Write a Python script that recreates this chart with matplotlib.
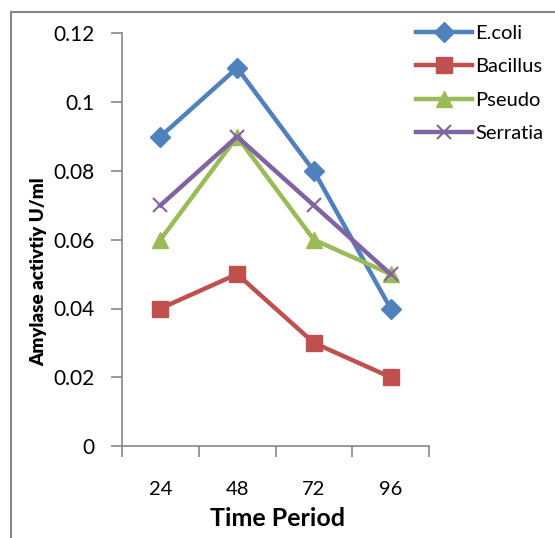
import matplotlib
matplotlib.use("Agg")
import matplotlib.pyplot as plt
from matplotlib.patches import Rectangle

categories = ["24", "48", "72", "96"]
ecoli = [0.09, 0.11, 0.08, 0.04]
bacillus = [0.04, 0.05, 0.03, 0.02]
pseudo = [0.06, 0.09, 0.06, 0.05]
serratia = [0.07, 0.09, 0.07, 0.05]
yticks = [0, 0.02, 0.04, 0.06, 0.08, 0.1, 0.12]
yticklabels = ["0", "0.02", "0.04", "0.06", "0.08", "0.1", "0.12"]

plt.rcParams['font.family'] = ['Lato', 'DejaVu Sans']

W, H = 555, 538
fig = plt.figure(figsize=(W/100, H/100), dpi=100)
ax = fig.add_axes([122/W, 1-446/H, (429-122)/W, (446-33.5)/H])

x = range(len(categories))
series = [
    ("E.coli", ecoli, "#4F81BD", "D", 10, 1),
    ("Bacillus", bacillus, "#C0504D", "s", 11, 1),
    ("Pseudo", pseudo, "#9BBB59", "^", 11, 1),
    ("Serratia", serratia, "#8064A2", "x", 10, 1.5),
]
for name, vals, col, m, ms, mew in series:
    ax.plot(x, vals, color=col, lw=3.2, marker=m, ms=ms, mew=mew,
            markerfacecolor=col, markeredgecolor=col, label=name)

ax.set_xlim(-0.5, 3.5)
ax.set_ylim(0, 0.12)
ax.set_yticks(yticks)
ax.set_yticklabels(yticklabels)
ax.set_xticks([-0.5, 0.5, 1.5, 2.5, 3.5])
ax.set_xticklabels([])
ax.set_xticks(list(x), minor=True)
ax.set_xticklabels(categories, minor=True)
ax.tick_params(axis='x', which='minor', length=0, pad=25.5, labelsize=14.5)
ax.tick_params(axis='x', which='major', length=8, color='#868686', width=1.2)
ax.tick_params(axis='y', length=8, color='#868686', width=1.2, labelsize=15, pad=12)
for s in ['top', 'right']:
    ax.spines[s].set_visible(False)
for s in ['left', 'bottom']:
    ax.spines[s].set_color('#868686')
    ax.spines[s].set_linewidth(1.2)

ax.set_xlabel("Time Period", fontsize=18, fontweight='bold')
ax.xaxis.set_label_coords((278-122)/307, -(518-446)/412.5)
ax.xaxis.label.set_verticalalignment('center')
ax.set_ylabel("Amylase activtiy U/ml", fontsize=13.5, fontweight='heavy')
ax.yaxis.set_label_coords((39-122)/307, (446-272)/412.5)
ax.yaxis.label.set_verticalalignment('center')

leg = fig.legend(loc='upper left', bbox_to_anchor=(408/W, 1-17/H), frameon=False,
                 fontsize=14.5, handlelength=2.8, handletextpad=0.15, labelspacing=0.8,
                 borderaxespad=0)

fig.patches.append(Rectangle((11/W, -0.1), 1.2, 1-12/H+0.1, transform=fig.transFigure,
                             fill=False, edgecolor='#868686', lw=1.5))

fig.savefig("out.png", dpi=100)
